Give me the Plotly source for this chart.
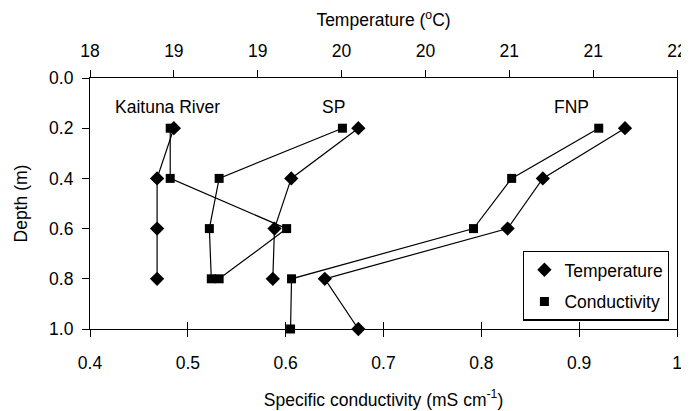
import plotly.graph_objects as go

# ---- data ----
depth_short = [0.2, 0.4, 0.6, 0.8]
depth_fnp = [0.2, 0.4, 0.6, 0.8, 1.0]

kaituna_temp = [18.50, 18.40, 18.40, 18.40]
kaituna_cond = [0.482, 0.482, 0.601, 0.532]

sp_temp = [19.60, 19.20, 19.10, 19.09]
sp_cond = [0.658, 0.532, 0.522, 0.524]

fnp_temp = [21.19, 20.70, 20.49, 19.40, 19.60]
fnp_cond = [0.920, 0.831, 0.792, 0.606, 0.605]

temp_tickvals = [18, 18.5, 19, 19.5, 20, 20.5, 21, 21.5]
temp_ticktext = ["18", "19", "19", "20", "20", "21", "21", "22"]
cond_tickvals = [0.4, 0.5, 0.6, 0.7, 0.8, 0.9, 1.0]
cond_ticktext = ["0.4", "0.5", "0.6", "0.7", "0.8", "0.9", "1"]
depth_tickvals = [0.0, 0.2, 0.4, 0.6, 0.8, 1.0]

site_labels = ["Kaituna River", "SP", "FNP"]
site_label_x = [0.479, 0.6485, 0.8926]   # conductivity-axis position of labels
site_label_y = [0.117, 0.117, 0.117]

FONT = "Liberation Sans, Arial, sans-serif"
FS = 17.5
BLACK = "#000000"

fig = go.Figure()

diamond = dict(symbol="diamond", size=11, color=BLACK)
square = dict(symbol="square", size=9, color=BLACK)
line = dict(color=BLACK, width=1.2)

for t, d in [(kaituna_temp, depth_short), (sp_temp, depth_short), (fnp_temp, depth_fnp)]:
    fig.add_trace(go.Scatter(x=t, y=d, xaxis="x2", yaxis="y", mode="lines+markers",
                             marker=diamond, line=line, showlegend=False, cliponaxis=False))
for c, d in [(kaituna_cond, depth_short), (sp_cond, depth_short), (fnp_cond, depth_fnp)]:
    fig.add_trace(go.Scatter(x=c, y=d, xaxis="x", yaxis="y", mode="lines+markers",
                             marker=square, line=line, showlegend=False, cliponaxis=False))

# legend entries (markers only)
fig.add_trace(go.Scatter(x=[None], y=[None], mode="markers", marker=diamond,
                         name="Temperature", legendgroup="a"))
fig.add_trace(go.Scatter(x=[None], y=[None], mode="markers", marker=square,
                         name="Conductivity", legendgroup="b"))

for lab, lx, ly in zip(site_labels, site_label_x, site_label_y):
    fig.add_annotation(x=lx, y=ly, xref="x", yref="y", text=lab, showarrow=False,
                       font=dict(family=FONT, size=FS, color=BLACK))

axis_common = dict(showgrid=False, zeroline=False, showline=True, linecolor=BLACK,
                   linewidth=1.2, tickcolor=BLACK, tickwidth=1.2, automargin=False,
                   tickfont=dict(family=FONT, size=FS, color=BLACK))

# page body has an 8px default margin; figure is sized to fit the 689x411 window
fig.update_layout(
    width=681, height=403,
    margin=dict(l=82, r=12, t=70, b=82),
    paper_bgcolor="white", plot_bgcolor="white",
    font=dict(family=FONT, size=FS, color=BLACK),
    xaxis=dict(range=[0.4, 1.0], tickvals=cond_tickvals, ticktext=cond_ticktext,
               ticks="outside", ticklen=7, ticklabelstandoff=11,
               title=dict(text="Specific conductivity (mS cm<sup>-1</sup>)",
                          font=dict(family=FONT, size=FS, color=BLACK), standoff=21),
               **axis_common),
    xaxis2=dict(range=[18, 21.5], tickvals=temp_tickvals, ticktext=temp_ticktext,
                overlaying="x", side="top", anchor="y",
                ticks="outside", ticklen=7, ticklabelstandoff=6,
                title=dict(text="Temperature (<sup>o</sup>C)",
                           font=dict(family=FONT, size=FS, color=BLACK), standoff=10),
                **axis_common),
    xaxis3=dict(range=[0.4, 1.0], tickvals=cond_tickvals, overlaying="x", side="bottom",
                anchor="y", ticks="inside", ticklen=7, showticklabels=False, automargin=False,
                showgrid=False, zeroline=False, showline=False, tickcolor=BLACK, tickwidth=1.2),
    yaxis=dict(range=[1.0, 0.0], tickvals=depth_tickvals, tickformat=".1f",
               ticks="outside", ticklen=7, ticklabelstandoff=5, mirror=True,
               title=dict(text="Depth (m)", font=dict(family=FONT, size=FS, color=BLACK),
                          standoff=16),
               **axis_common),
    legend=dict(x=0.738, y=0.312, xanchor="left", yanchor="top",
                bordercolor=BLACK, borderwidth=1.2, bgcolor="white",
                font=dict(family=FONT, size=FS, color=BLACK),
                tracegroupgap=6, traceorder="grouped", itemwidth=30),
)

# dummy trace to activate xaxis3 ticks
fig.add_trace(go.Scatter(x=[None], y=[None], xaxis="x3", yaxis="y", showlegend=False))

fig.write_html("out.html")
